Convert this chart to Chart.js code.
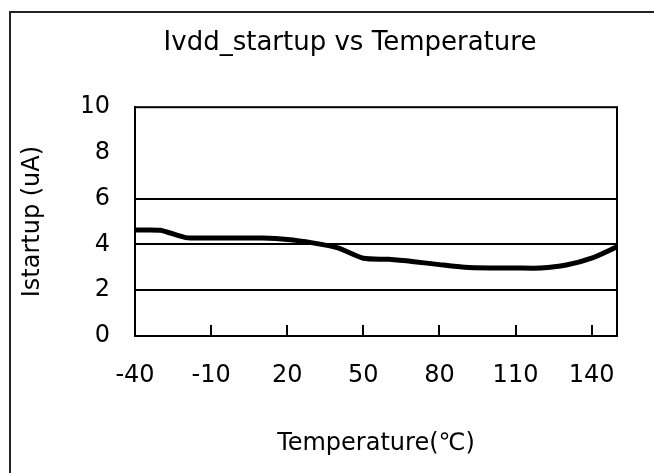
<!DOCTYPE html>
<html>
<head>
<meta charset="utf-8">
<script src="https://cdn.jsdelivr.net/npm/chart.js@4/dist/chart.umd.min.js"></script>
<style>
  html, body { margin: 0; padding: 0; background: #fff; }
  canvas { display: block; }
</style>
</head>
<body>
<canvas id="chart" width="654" height="473"></canvas>
<script>
// dữ liệu
const temperatures = [-40, -30, -20, -10, 0, 10, 20, 30, 40, 50, 60, 70, 80, 90, 100, 110, 120, 130, 140, 150];
const istartup = [4.63, 4.62, 4.30, 4.28, 4.28, 4.28, 4.22, 4.07, 3.85, 3.40, 3.35, 3.25, 3.12, 3.00, 2.97, 2.97, 2.97, 3.10, 3.40, 3.90];
const xTickLabels = [-40, -10, 20, 50, 80, 110, 140];
const yGridValues = [2, 4, 6];

const FONT = "'DejaVu Sans', Verdana, sans-serif";

// khung ngoài + khung vùng vẽ + vạch chia hướng vào trong
const framePlugin = {
    id: "frame",
    beforeDraw(chart) {
        const ctx = chart.ctx;
        ctx.save();
        ctx.fillStyle = "#fff";
        ctx.fillRect(0, 0, chart.width, chart.height);
        ctx.strokeStyle = "#222";
        ctx.lineWidth = 2;
        ctx.strokeRect(10, 12, chart.width + 20, chart.height + 20);
        ctx.restore();
    },
    afterDatasetsDraw(chart) {
        const ctx = chart.ctx;
        const a = chart.chartArea;
        const xs = chart.scales.x;
        ctx.save();
        ctx.strokeStyle = "#000";
        ctx.lineWidth = 2;
        ctx.strokeRect(a.left, a.top, a.right - a.left, a.bottom - a.top);
        ctx.beginPath();
        xs.ticks.slice(1).forEach(t => {
            const px = Math.round(xs.getPixelForValue(t.value));
            ctx.moveTo(px, a.bottom);
            ctx.lineTo(px, a.bottom - 11);
        });
        ctx.stroke();
        ctx.restore();
    }
};

new Chart(document.getElementById("chart"), {
    type: "line",
    data: {
        datasets: [{
            data: temperatures.map((t, i) => ({ x: t, y: istartup[i] })),
            borderColor: "#000",
            borderWidth: 5,
            pointRadius: 0,
            tension: 0.2,
            fill: false
        }]
    },
    options: {
        responsive: false,
        animation: false,
        // lề trái lớn để tiêu đề nằm giữa như hình gốc
        layout: { padding: { left: 83, right: 37, top: 0, bottom: 0 } },
        plugins: {
            legend: { display: false },
            tooltip: { enabled: false },
            title: {
                display: true,
                text: "Ivdd_startup vs Temperature",
                color: "#000",
                font: { family: FONT, size: 26, weight: "normal" },
                padding: { top: 28, bottom: 48 }
            }
        },
        scales: {
            x: {
                type: "linear",
                min: -40,
                max: 150,
                afterBuildTicks: axis => {
                    axis.ticks = xTickLabels.map(v => ({ value: v }));
                },
                afterFit: scale => { scale.height = 473 - 336; },
                grid: { display: false, drawTicks: false },
                border: { display: true, color: "#000", width: 2 },
                ticks: {
                    color: "#000",
                    font: { family: FONT, size: 24 },
                    padding: 25,
                    maxRotation: 0,
                    autoSkip: false
                },
                title: {
                    display: true,
                    text: "Temperature(℃)",
                    color: "#000",
                    font: { family: FONT, size: 24 },
                    padding: { top: 0, bottom: 15 }
                }
            },
            y: {
                min: 0,
                max: 10,
                afterFit: scale => { scale.width = 52; },
                grid: {
                    drawTicks: false,
                    lineWidth: 2,
                    color: c => yGridValues.includes(c.tick.value) ? "#000" : "rgba(0,0,0,0)"
                },
                border: { display: true, color: "#000", width: 2 },
                ticks: {
                    stepSize: 2,
                    color: "#000",
                    font: { family: FONT, size: 24 },
                    padding: 25
                },
                title: {
                    display: true,
                    text: "Istartup (uA)",
                    color: "#000",
                    font: { family: FONT, size: 24 },
                    padding: { top: -65, bottom: 0 }
                }
            }
        }
    },
    plugins: [framePlugin]
});
</script>
</body>
</html>
